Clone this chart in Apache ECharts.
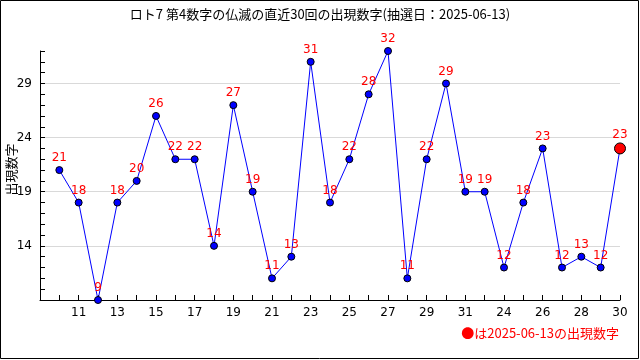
<!DOCTYPE html>
<html>
<head>
<meta charset="utf-8">
<script src="https://cdn.jsdelivr.net/npm/echarts@6/dist/echarts.min.js"></script>
<style>
html,body{margin:0;padding:0;background:#fff;}
#c{width:640px;height:360px;}
</style>
</head>
<body>
<div id="c"></div>
<script>
// Draw labels shown under the x axis (one per point)
const categories = [10,11,12,13,14,15,16,17,18,19,20,21,22,23,24,25,26,27,28,29,30,31,23,24,25,26,27,28,29,30];
// Appearance numbers
const values = [21,18,9,18,20,26,22,22,14,27,19,11,13,31,18,22,28,32,11,22,29,19,19,12,18,23,12,13,12,23];
// Y tick labels shown
const yLabels = [14,19,24,29];
const titleText = 'ロト7 第4数字の仏滅の直近30回の出現数字(抽選日：2025-06-13)';
const noteText = '●は2025-06-13の出現数字';

const font = '"Noto Sans CJK JP", "DejaVu Sans", sans-serif';
const lastIdx = values.length - 1;
const seriesData = values.map((v, i) => {
  const d = { value: [i + 1, v] };
  if (i === lastIdx) {
    d.symbolSize = 11;
    d.itemStyle = { color: '#ff0000', borderColor: '#000', borderWidth: 1 };
  }
  return d;
});

const chart = echarts.init(document.getElementById('c'), null, { renderer: 'canvas' });
chart.setOption({
  backgroundColor: '#fff',
  animation: false,
  title: {
    text: titleText,
    left: 'center',
    top: 3,
    textStyle: { fontFamily: font, fontSize: 13, fontWeight: 'normal', color: '#000' }
  },
  grid: { left: 40, right: 20, top: 51, bottom: 60, containLabel: false, outerBoundsMode: 'none' },
  xAxis: {
    type: 'value',
    min: 0, max: 30, interval: 1,
    axisLine: { show: true, lineStyle: { color: '#000', width: 1 } },
    axisTick: { show: true, inside: true, length: 5, lineStyle: { color: '#000' } },
    splitLine: { show: false },
    axisLabel: {
      color: '#000', fontSize: 12, fontFamily: '"DejaVu Sans", sans-serif', margin: 7,
      formatter: v => (v >= 2 && v % 2 === 0) ? String(categories[v - 1]) : ''
    }
  },
  yAxis: {
    type: 'value',
    min: 9, max: 32, interval: 1,
    name: '出現数字',
    nameLocation: 'middle',
    nameRotate: 90,
    nameGap: 22,
    nameMoveOverlap: false,
    nameTextStyle: { fontFamily: font, fontSize: 13, color: '#000', padding: [0, 0, 0, 12] },
    axisLine: { show: true, lineStyle: { color: '#000', width: 1 } },
    axisTick: { show: true, inside: true, length: 5, lineStyle: { color: '#000' } },
    splitLine: { show: true, lineStyle: { color: ['#d9d9d9', 'transparent', 'transparent', 'transparent', 'transparent'], width: 1 } },
    axisLabel: {
      color: '#000', fontSize: 12, fontFamily: '"DejaVu Sans", sans-serif', margin: 8,
      formatter: v => yLabels.indexOf(v) >= 0 ? String(v) : ''
    }
  },
  series: [{
    type: 'line',
    data: seriesData,
    clip: false,
    symbol: 'circle',
    symbolSize: 7,
    lineStyle: { color: '#0000ff', width: 1 },
    itemStyle: { color: '#0000ff', borderColor: '#000', borderWidth: 1 },
    label: {
      show: true, position: 'top', distance: 2,
      color: '#ff0000', fontSize: 12, fontFamily: '"DejaVu Sans", sans-serif',
      formatter: p => String(p.value[1])
    }
  }],
  graphic: [
    {
      type: 'rect',
      shape: { x: 0.5, y: 0.5, width: 638, height: 358 },
      style: { fill: 'none', stroke: '#000', lineWidth: 1 },
      silent: true, z: 100
    },
    {
      type: 'text',
      right: 21, top: 327,
      style: { text: noteText, fill: '#ff0000', font: '13px ' + font }
    }
  ]
});
</script>
</body>
</html>
